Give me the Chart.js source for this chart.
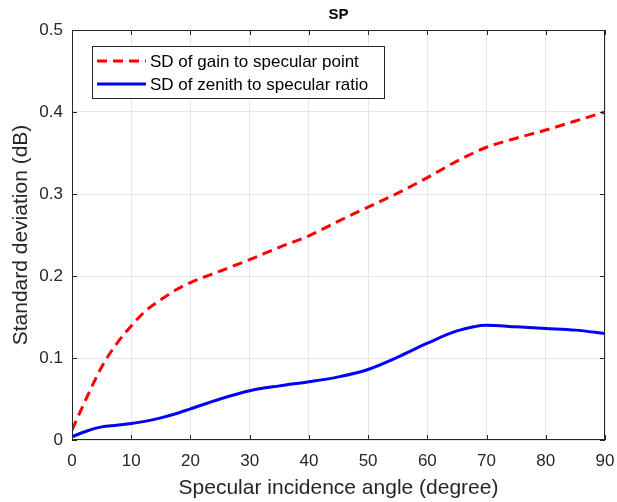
<!DOCTYPE html>
<html>
<head>
<meta charset="utf-8">
<title>SP</title>
<script src="https://cdn.jsdelivr.net/npm/chart.js@4.4.1/dist/chart.umd.min.js"></script>
<style>
  html, body { margin: 0; padding: 0; background: #fff; }
</style>
</head>
<body>
<canvas id="sp-chart" width="617" height="502"></canvas>
<script>
// values
const angles   = [0, 2.5, 5, 7.5, 10, 12.5, 15, 17.5, 20, 25, 30, 35, 40, 45, 50, 55, 60, 65, 70, 75, 80, 85, 90];
const gainSD   = [0.012, 0.052, 0.089, 0.117, 0.139, 0.158, 0.171, 0.183, 0.192, 0.206, 0.220, 0.235, 0.249, 0.267, 0.284, 0.301, 0.320, 0.340, 0.357, 0.368, 0.378, 0.389, 0.400];
const zenithSD = [0.004, 0.011, 0.016, 0.018, 0.020, 0.023, 0.027, 0.032, 0.038, 0.050, 0.060, 0.066, 0.071, 0.077, 0.086, 0.101, 0.118, 0.133, 0.140, 0.138, 0.136, 0.134, 0.130];
const seriesNames = ["SD of gain to specular point", "SD of zenith to specular ratio"];
const xTicks = [0, 10, 20, 30, 40, 50, 60, 70, 80, 90];
const yTicks = [0, 0.1, 0.2, 0.3, 0.4, 0.5];

const FONT = "'Liberation Sans', Arial, Helvetica, sans-serif";
const AXIS = '#262626';

function toPoints(xs, ys) {
    return xs.map((x, i) => ({ x: x, y: ys[i] }));
}

// box around the plot, inside ticks and the matlab style legend
const framePlugin = {
    id: 'frame',
    afterDraw(chart) {
        const ctx = chart.ctx;
        const a = chart.chartArea;
        const sx = chart.scales.x;
        const sy = chart.scales.y;
        ctx.save();
        ctx.strokeStyle = AXIS;
        ctx.lineWidth = 1;
        ctx.beginPath();
        sx.ticks.forEach(t => {
            const px = Math.round(sx.getPixelForValue(t.value)) + 0.5;
            ctx.moveTo(px, a.bottom); ctx.lineTo(px, a.bottom - 5);
            ctx.moveTo(px, a.top); ctx.lineTo(px, a.top + 5);
        });
        sy.ticks.forEach(t => {
            const py = Math.round(sy.getPixelForValue(t.value)) + 0.5;
            ctx.moveTo(a.left, py); ctx.lineTo(a.left + 5, py);
            ctx.moveTo(a.right, py); ctx.lineTo(a.right - 5, py);
        });
        ctx.stroke();
        ctx.strokeRect(Math.round(a.left) + 0.5, Math.round(a.top) + 0.5,
                       Math.round(a.width) - 1, Math.round(a.height) - 1);

        // legend
        const lx = a.left + 20, ly = a.top + 16, lw = 292, lh = 52;
        ctx.fillStyle = '#fff';
        ctx.fillRect(lx, ly, lw, lh);
        ctx.strokeStyle = AXIS;
        ctx.strokeRect(lx + 0.5, ly + 0.5, lw, lh);
        ctx.font = '17px ' + FONT;
        ctx.textBaseline = 'middle';
        ctx.textAlign = 'left';
        chart.data.datasets.forEach((ds, i) => {
            const y = ly + 15 + i * 23;
            ctx.beginPath();
            ctx.strokeStyle = ds.borderColor;
            ctx.lineWidth = ds.borderWidth;
            ctx.setLineDash(ds.borderDash || []);
            ctx.moveTo(lx + 5, y);
            ctx.lineTo(lx + 54, y);
            ctx.stroke();
            ctx.setLineDash([]);
            ctx.fillStyle = '#000';
            ctx.fillText(ds.label, lx + 58, y + 1);
        });
        ctx.restore();
    }
};

const ctx = document.getElementById('sp-chart');
const spChart = new Chart(ctx, {
    type: 'line',
    data: {
        datasets: [{
            label: seriesNames[0],
            data: toPoints(angles, gainSD),
            borderColor: '#ff0000',
            borderWidth: 3,
            borderDash: [10, 6],
            pointRadius: 0,
            fill: false,
            cubicInterpolationMode: 'monotone'
        }, {
            label: seriesNames[1],
            data: toPoints(angles, zenithSD),
            borderColor: '#0000ff',
            borderWidth: 3,
            pointRadius: 0,
            fill: false,
            cubicInterpolationMode: 'monotone'
        }]
    },
    options: {
        responsive: false,
        animation: false,
        devicePixelRatio: 1,
        layout: { padding: { right: 12, left: 0, bottom: 0, top: 0 } },
        plugins: {
            legend: { display: false },
            tooltip: { enabled: false },
            title: {
                display: true,
                text: 'SP',
                fullSize: false,
                color: '#000',
                font: { family: FONT, size: 15, weight: 'bold' },
                padding: { top: 6, bottom: 6 }
            }
        },
        scales: {
            x: {
                type: 'linear',
                min: 0,
                max: 90,
                afterBuildTicks: s => { s.ticks = xTicks.map(v => ({ value: v })); },
                afterFit: s => { s.height = 62; s.paddingLeft = 0; s.paddingRight = 0; },
                grid: { color: '#e6e6e6', drawTicks: false },
                border: { display: false },
                ticks: {
                    color: AXIS,
                    font: { family: FONT, size: 17 },
                    padding: 11,
                    maxRotation: 0,
                    autoSkip: false
                },
                title: {
                    display: true,
                    text: 'Specular incidence angle (degree)',
                    color: AXIS,
                    font: { family: FONT, size: 21 },
                    padding: { top: 0, bottom: 1.5 }
                }
            },
            y: {
                min: 0,
                max: 0.5,
                afterBuildTicks: s => { s.ticks = yTicks.map(v => ({ value: v })); },
                afterFit: s => { s.width = 72; },
                grid: { color: '#e6e6e6', drawTicks: false },
                border: { display: false },
                ticks: {
                    color: AXIS,
                    font: { family: FONT, size: 17 },
                    padding: 9,
                    callback: v => String(v)
                },
                title: {
                    display: true,
                    text: 'Standard deviation (dB)',
                    color: AXIS,
                    font: { family: FONT, size: 21 },
                    padding: { top: 8.4, bottom: 0 }
                }
            }
        }
    },
    plugins: [framePlugin]
});
</script>
</body>
</html>
